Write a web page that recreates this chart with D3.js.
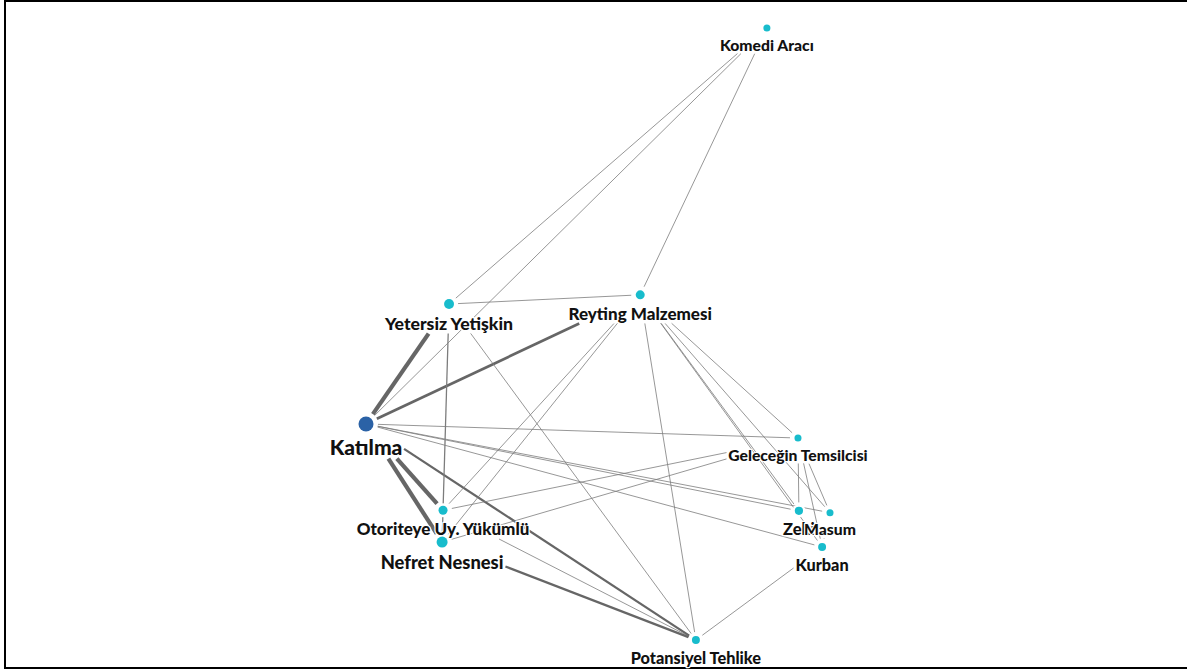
<!DOCTYPE html>
<html>
<head>
<meta charset="utf-8">
<script src="https://cdn.jsdelivr.net/npm/d3@7"></script>
<style>
html,body{margin:0;padding:0;background:#fff;}
svg{display:block;}
</style>
</head>
<body>
<svg id="chart" width="1187" height="670"></svg>
<script>
// ---- data ----
const nodeNames = ["Katılma","Yetersiz Yetişkin","Reyting Malzemesi","Komedi Aracı","Geleceğin Temsilcisi","Zeki","Masum","Kurban","Otoriteye Uy. Yükümlü","Nefret Nesnesi","Potansiyel Tehlike"];
const nodeX = [0, 17.9, 59.1, 86.4, 93.1, 93.3, 100, 98.3, 16.6, 16.4, 71.1];
const nodeY = [64.7, 45.1, 43.6, 0, 67.0, 78.9, 79.2, 84.8, 78.8, 84.0, 100];
const nodeValue = [100, 44, 36, 22, 22, 30, 22, 28, 36, 54, 28];
const nodeGroup = ["core","other","other","other","other","other","other","other","other","other","other"];

const edgeSource = ["Katılma","Katılma","Katılma","Katılma","Katılma","Katılma","Katılma","Katılma","Katılma","Katılma",
  "Yetersiz Yetişkin","Yetersiz Yetişkin","Yetersiz Yetişkin","Yetersiz Yetişkin",
  "Reyting Malzemesi","Reyting Malzemesi","Reyting Malzemesi","Reyting Malzemesi","Reyting Malzemesi","Reyting Malzemesi","Reyting Malzemesi","Reyting Malzemesi",
  "Otoriteye Uy. Yükümlü","Otoriteye Uy. Yükümlü","Nefret Nesnesi","Nefret Nesnesi",
  "Geleceğin Temsilcisi","Geleceğin Temsilcisi","Geleceğin Temsilcisi","Masum","Kurban"];
const edgeTarget = ["Yetersiz Yetişkin","Otoriteye Uy. Yükümlü","Nefret Nesnesi","Reyting Malzemesi","Potansiyel Tehlike","Geleceğin Temsilcisi","Zeki","Masum","Kurban","Komedi Aracı",
  "Komedi Aracı","Reyting Malzemesi","Nefret Nesnesi","Potansiyel Tehlike",
  "Komedi Aracı","Otoriteye Uy. Yükümlü","Nefret Nesnesi","Potansiyel Tehlike","Geleceğin Temsilcisi","Zeki","Masum","Kurban",
  "Geleceğin Temsilcisi","Potansiyel Tehlike","Geleceğin Temsilcisi","Potansiyel Tehlike",
  "Zeki","Masum","Kurban","Kurban","Potansiyel Tehlike"];
const edgeWeight = [8,8,8,5,4,1,1,1,1,1,
  1,1,2,1,
  1,1,1,1,1,1,1,1,
  1,1,1,4,
  1,1,1,1,1];

// ---- scales ----
const x = d3.scaleLinear().domain([0,100]).range([366,830]);
const y = d3.scaleLinear().domain([0,100]).range([28,640]);
const rScale = d3.scaleSqrt().domain([0,100]).range([0,7.5]);
const fScale = d3.scaleSqrt().domain([0,100]).range([11,21]);
const wScale = d3.scaleLinear().domain([1,8]).range([0.8,4.2]);
const color = d3.scaleOrdinal().domain(["core","other"]).range(["#2b62a6","#18bccc"]);

const svg = d3.select("#chart");

// frame
svg.append("rect").attr("x",5).attr("y",1).attr("width",1200).attr("height",667)
  .attr("fill","none").attr("stroke","#000").attr("stroke-width",2);

const nodes = nodeNames.map((n,i)=>({name:n, cx:x(nodeX[i]), cy:y(nodeY[i]), r:rScale(nodeValue[i]), fs:fScale(nodeValue[i]), group:nodeGroup[i]}));
const byName = new Map(nodes.map(d=>[d.name,d]));

const gEdges = svg.append("g");
const gNodes = svg.append("g");
const gLabels = svg.append("g");

const labels = gLabels.selectAll("text").data(nodes).join("text")
  .attr("x",d=>d.cx)
  .attr("y",d=>d.cy + d.r + 7 + d.fs*0.78)
  .attr("text-anchor","middle")
  .attr("font-family","Lato, 'Noto Sans', sans-serif")
  .attr("font-weight",900)
  .attr("font-size",d=>d.fs)
  .attr("fill","#111")
  .attr("stroke","#fff").attr("stroke-width",2.5).attr("paint-order","stroke")
  .attr("stroke-linejoin","round")
  .text(d=>d.name);
labels.each(function(d){ const b=this.getBBox(); d.box={x0:b.x-2,y0:b.y+1,x1:b.x+b.width+2,y1:b.y+b.height}; });

function hidden(p, d){
  const dx=p[0]-d.cx, dy=p[1]-d.cy;
  if (dx*dx+dy*dy < (d.r+4.5)*(d.r+4.5)) return true;
  const b=d.box;
  return p[0]>=b.x0 && p[0]<=b.x1 && p[1]>=b.y0 && p[1]<=b.y1;
}

const edges = edgeSource.map((s,i)=>({s:byName.get(s), t:byName.get(edgeTarget[i]), w:edgeWeight[i]}));
edges.forEach(e=>{
  const L = Math.hypot(e.t.cx-e.s.cx, e.t.cy-e.s.cy);
  const n = Math.ceil(L*2);
  const pt = t => [e.s.cx+(e.t.cx-e.s.cx)*t, e.s.cy+(e.t.cy-e.s.cy)*t];
  let t0=0, t1=1;
  for(let k=0;k<=n;k++){ const t=k/n; if(hidden(pt(t),e.s)) t0=t; }
  for(let k=n;k>=0;k--){ const t=k/n; if(hidden(pt(t),e.t)) t1=t; }
  const a=pt(t0), b=pt(t1);
  e.path = t1>t0 ? `M${a[0]},${a[1]}L${b[0]},${b[1]}` : "";
});

gEdges.selectAll("path").data(edges).join("path")
  .attr("d",d=>d.path)
  .attr("fill","none")
  .attr("stroke",d=>d.w>=4?"#666":"#7c7c7c")
  .attr("stroke-width",d=>wScale(d.w));

gNodes.selectAll("circle.halo").data(nodes).join("circle").attr("class","halo")
  .attr("cx",d=>d.cx).attr("cy",d=>d.cy).attr("r",d=>d.r+2.5).attr("fill","#fff");
gNodes.selectAll("circle.node").data(nodes).join("circle").attr("class","node")
  .attr("cx",d=>d.cx).attr("cy",d=>d.cy).attr("r",d=>d.r).attr("fill",d=>color(d.group));
</script>
</body>
</html>
